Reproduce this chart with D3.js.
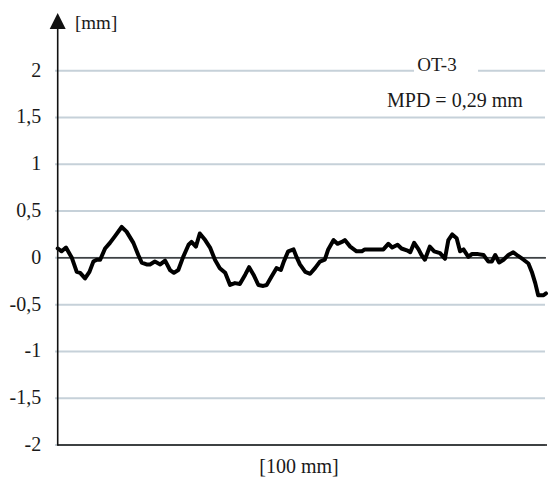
<!DOCTYPE html>
<html>
<head>
<meta charset="utf-8">
<script src="https://cdn.jsdelivr.net/npm/d3@7"></script>
<style>
  body { margin: 0; background: #fff; }
  svg { display: block; }
  text { font-family: "Liberation Serif", "DejaVu Serif", serif; fill: #1a1a1a; }
</style>
</head>
<body>
<svg width="552" height="477"></svg>
<script>
// profile OT-3: position along 100 mm sample [mm], height [mm]
var profileX = [0, 0.8, 1.7, 2.9, 3.9, 4.6, 5.6, 6.5, 7.3, 8.0, 8.7, 9.7, 10.7, 11.7, 13.1, 14.1,
    15.5, 16.5, 17.2, 18.2, 18.9, 19.9, 21.0, 22.0, 23.0, 23.8, 24.7, 25.7, 26.8, 27.4, 28.3, 29.1,
    30.2, 31.2, 32.2, 33.2, 34.3, 35.3, 36.3, 37.3, 38.4, 39.2, 40.1, 41.1, 42.1, 42.8, 43.8, 44.8,
    45.7, 46.3, 47.2, 48.3, 48.9, 49.6, 50.7, 51.7, 52.7, 53.7, 54.7, 55.4, 56.5, 57.3, 58.2, 58.8,
    59.9, 61.2, 62.3, 62.9, 64.0, 65.0, 66.7, 67.7, 68.5, 69.6, 70.4, 71.5, 72.2, 73.0, 73.9, 74.5,
    75.2, 76.2, 77.1, 78.3, 79.3, 80.0, 80.8, 81.7, 82.4, 83.1, 84.1, 84.8, 86.1, 87.2, 88.2, 88.9,
    89.6, 90.4, 91.3, 92.3, 93.3, 94.3, 95.4, 96.4, 97.1, 97.8, 98.4, 99.5, 100];
var profileY = [0.10, 0.07, 0.11, 0.00, -0.15, -0.16, -0.22, -0.15, -0.04, -0.02, -0.02, 0.10, 0.16, 0.23, 0.33, 0.28,
    0.16, 0.03, -0.05, -0.07, -0.07, -0.04, -0.07, -0.03, -0.13, -0.16, -0.13, 0.01, 0.14, 0.17, 0.12, 0.26,
    0.19, 0.11, -0.02, -0.11, -0.16, -0.29, -0.27, -0.28, -0.18, -0.10, -0.18, -0.29, -0.30, -0.29, -0.20, -0.11,
    -0.13, -0.04, 0.07, 0.09, 0.01, -0.07, -0.15, -0.17, -0.11, -0.04, -0.02, 0.09, 0.19, 0.15, 0.17, 0.19,
    0.12, 0.07, 0.07, 0.09, 0.09, 0.09, 0.09, 0.15, 0.11, 0.14, 0.10, 0.08, 0.06, 0.16, 0.09, 0.03,
    -0.02, 0.12, 0.07, 0.05, -0.01, 0.19, 0.25, 0.21, 0.07, 0.09, 0.01, 0.04, 0.04, 0.03, -0.04, -0.04,
    0.03, -0.05, -0.02, 0.03, 0.06, 0.02, -0.02, -0.06, -0.15, -0.27, -0.40, -0.40, -0.38];

var tickValues = [2, 1.5, 1, 0.5, 0, -0.5, -1, -1.5, -2];
var tickLabels = ['2', '1,5', '1', '0,5', '0', '-0,5', '-1', '-1,5', '-2'];

var fontFamily = '"Liberation Serif", "DejaVu Serif", serif';

var svg = d3.select('svg');

var x = d3.scaleLinear().domain([0, 100]).range([57.7, 546]);
var y = d3.scaleLinear().domain([-2, 2]).range([445, 70.7]);

// grey grid lines
svg.append('g')
    .selectAll('line')
    .data(tickValues)
    .enter()
    .append('line')
    .attr('x1', 55)
    .attr('x2', 545)
    .attr('y1', function(d) { return y(d); })
    .attr('y2', function(d) { return y(d); })
    .attr('stroke', '#c6d1d9')
    .attr('stroke-width', 2);

// tick labels
var yAxis = d3.axisLeft(y)
    .tickValues(tickValues)
    .tickSize(0)
    .tickPadding(16.5)
    .tickFormat(function(d, i) { return tickLabels[i]; });

var axisG = svg.append('g')
    .attr('transform', 'translate(' + x(0) + ',0)')
    .call(yAxis)
    .attr('font-family', fontFamily)
    .attr('font-size', 20);
axisG.select('.domain').remove();
axisG.selectAll('text')
    .attr('fill', '#1a1a1a')
    .attr('dy', '0.27em');

// zero line
svg.append('line')
    .attr('x1', x(0)).attr('x2', x(100))
    .attr('y1', y(0)).attr('y2', y(0))
    .attr('stroke', '#111')
    .attr('stroke-width', 1.2);

// profile
var line = d3.line()
    .x(function(d) { return x(d[0]); })
    .y(function(d) { return y(d[1]); });

svg.append('path')
    .datum(d3.zip(profileX, profileY))
    .attr('d', line)
    .attr('fill', 'none')
    .attr('stroke', '#000')
    .attr('stroke-width', 4)
    .attr('stroke-linejoin', 'round')
    .attr('stroke-linecap', 'round');

// bottom axis
svg.append('line')
    .attr('x1', x(0)).attr('x2', 547)
    .attr('y1', y(-2)).attr('y2', y(-2))
    .attr('stroke', '#111')
    .attr('stroke-width', 1.6);

// vertical axis with arrow
svg.append('line')
    .attr('x1', x(0)).attr('x2', x(0))
    .attr('y1', y(-2) + 0.8).attr('y2', 28)
    .attr('stroke', '#111')
    .attr('stroke-width', 1.6);

svg.append('path')
    .attr('d', 'M' + [x(0) - 8, 29] + 'L' + [x(0), 13] + 'L' + [x(0) + 8, 29] + 'Z')
    .attr('fill', '#111');

svg.append('text')
    .attr('x', 75)
    .attr('y', 29)
    .style('font-size', '19px')
    .text('[mm]');

// labels inside the chart
svg.append('rect')
    .attr('x', 414)
    .attr('y', 60)
    .attr('width', 64)
    .attr('height', 20)
    .attr('fill', '#fff');

svg.append('text')
    .attr('x', 437)
    .attr('y', 71)
    .attr('text-anchor', 'middle')
    .style('font-size', '19px')
    .text('OT-3');

svg.append('text')
    .attr('x', 387)
    .attr('y', 107)
    .style('font-size', '20px')
    .text('MPD = 0,29 mm');

svg.append('text')
    .attr('x', 299)
    .attr('y', 473)
    .attr('text-anchor', 'middle')
    .style('font-size', '20px')
    .text('[100 mm]');
</script>
</body>
</html>
